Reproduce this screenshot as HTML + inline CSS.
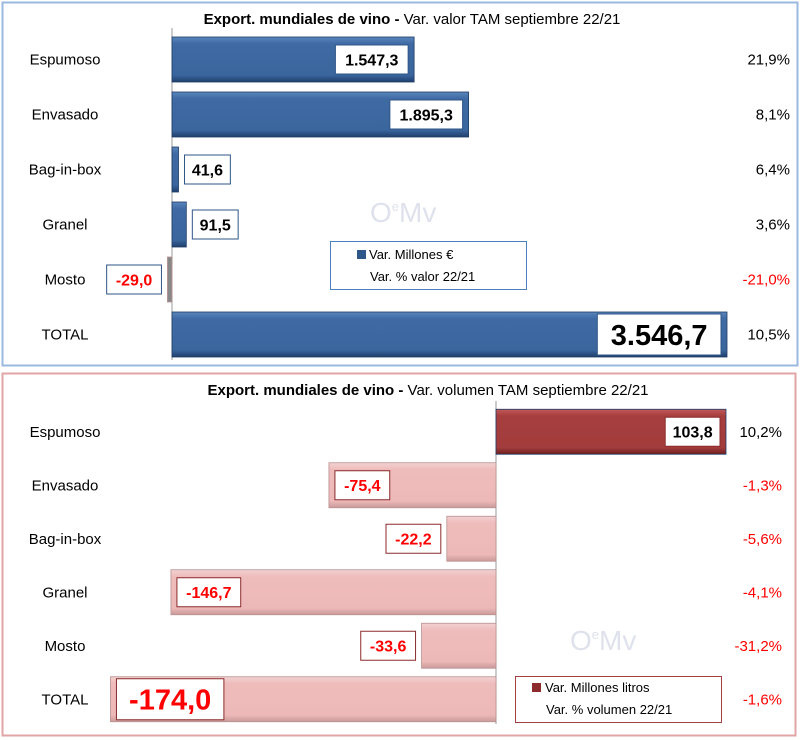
<!DOCTYPE html>
<html><head><meta charset="utf-8"><style>
body{margin:0;background:#fff;}
svg{display:block;font-family:"Liberation Sans",sans-serif;}
</style></head><body>
<svg id="c" width="802" height="740">
<defs>
<linearGradient id="gb" x1="0" y1="0" x2="0" y2="1"><stop offset="0" stop-color="#5a86bd"/><stop offset="0.15" stop-color="#3f6aa3"/><stop offset="0.85" stop-color="#3a659d"/><stop offset="1" stop-color="#1f3f6b"/></linearGradient>
<linearGradient id="gr" x1="0" y1="0" x2="0" y2="1"><stop offset="0" stop-color="#c05a5a"/><stop offset="0.15" stop-color="#a63e3e"/><stop offset="0.85" stop-color="#a33c3c"/><stop offset="1" stop-color="#6e1f1f"/></linearGradient>
<linearGradient id="gp" x1="0" y1="0" x2="0" y2="1"><stop offset="0" stop-color="#f2d2d2"/><stop offset="0.15" stop-color="#efbcbc"/><stop offset="0.85" stop-color="#edb8b8"/><stop offset="1" stop-color="#c99a9a"/></linearGradient>
</defs>
<rect x="2.5" y="2.5" width="795" height="363" fill="none" stroke="#9bb8de" stroke-width="2"/>
<rect x="2.5" y="373.5" width="793" height="362" fill="none" stroke="#e0a6a6" stroke-width="2"/>
<text x="412" y="24" text-anchor="middle" font-size="15"><tspan font-weight="bold">Export. mundiales de vino - </tspan>Var. valor TAM septiembre 22/21</text>
<text x="428" y="395" text-anchor="middle" font-size="15"><tspan font-weight="bold">Export. mundiales de vino - </tspan>Var. volumen TAM septiembre 22/21</text>
<text x="370" y="222" font-size="28" fill="#dfe2ec">O<tspan font-size="13" dy="-11">e</tspan><tspan dy="11">Mv</tspan></text>
<text x="570" y="650" font-size="28" fill="#dfe2ec">O<tspan font-size="13" dy="-11">e</tspan><tspan dy="11">Mv</tspan></text>
<g id="top"></g><g id="bot"></g>
<g>
<rect x="330.5" y="241.5" width="196" height="48" fill="#fff" stroke="#4a7fc1"/>
<rect x="357" y="250" width="9" height="9" fill="#2f5688"/>
<text x="369" y="259" font-size="13">Var. Millones €</text>
<text x="370" y="281" font-size="13">Var. % valor 22/21</text>
</g>
<g>
<rect x="515.5" y="676.5" width="206" height="46" fill="#fff" stroke="#a04040"/>
<rect x="532" y="683" width="9" height="9" fill="#8b2b2b"/>
<text x="545" y="692" font-size="13">Var. Millones litros</text>
<text x="546" y="714" font-size="13">Var. % volumen 22/21</text>
</g>
</svg>
<script>
const cats=["Espumoso","Envasado","Bag-in-box","Granel","Mosto","TOTAL"];
const valLabels=["1.547,3","1.895,3","41,6","91,5","-29,0","3.546,7"];
const valData=[1547.3,1895.3,41.6,91.5,-29.0,3546.7];
const valPct=["21,9%","8,1%","6,4%","3,6%","-21,0%","10,5%"];
const volLabels=["103,8","-75,4","-22,2","-146,7","-33,6","-174,0"];
const volData=[103.8,-75.4,-22.2,-146.7,-33.6,-174.0];
const volPct=["10,2%","-1,3%","-5,6%","-4,1%","-31,2%","-1,6%"];
const NS="http://www.w3.org/2000/svg";
function mk(p,t,a,txt){const e=document.createElementNS(NS,t);for(const k in a)e.setAttribute(k,a[k]);if(txt!=null)e.textContent=txt;p.appendChild(e);return e;}
function draw(g,cfg){
  const {data,labels,pcts,x0,k,y0,step,bh,pos,neg,pctX,catX,labBorder}=cfg;
  const xs=v=>x0+v*k;
  mk(g,"line",{x1:x0,y1:y0-6,x2:x0,y2:y0+step*6-4,stroke:"#999"});
  data.forEach((v,i)=>{
    const cy=y0+step*i+step/2-2;
    const c=mk(g,"text",{x:catX,y:cy+5,"text-anchor":"middle","font-size":15},cats[i]);
    
    
    const xa=Math.min(xs(0),xs(v)),w=Math.max(Math.abs(xs(v)-xs(0)),1.5);
    const b=mk(g,"rect",{x:xa,y:cy-bh/2,width:w,height:bh,fill:v>=0?pos:neg,stroke:v>=0?"#1e3c66":"#b89090","stroke-width":0.8});
    
    
    const big=i===5;
    const fs=big?(cfg.bigFs):16;
    const tw=labels[i].length*fs*0.56+10, th=big?fs+12:29;
    const inside=w>80;
    let bx;
    if(v>=0) bx=inside?xs(v)-6-tw:xs(v)+6;
    else bx=inside?xs(v)+6:xs(v)-6-tw;
    const bb=mk(g,"rect",{x:bx,y:cy-th/2,width:tw,height:th,fill:"#fff",stroke:labBorder});
    
    
    const t=mk(g,"text",{x:bx+tw/2,y:cy+fs*0.36,"text-anchor":"middle","font-size":fs,"font-weight":"bold",fill:v<0?"#ff0000":"#000"},labels[i]);
    
    
    const p=mk(g,"text",{x:pctX,y:cy+5,"text-anchor":"end","font-size":15,fill:pcts[i][0]==="-"?"#ff0000":"#000"},pcts[i]);
    
    
  });
}
draw(document.getElementById("top"),{data:valData,labels:valLabels,pcts:valPct,x0:172,k:555/3546.7,y0:34,step:55,bh:45,pos:"url(#gb)",neg:"#888",pctX:790,catX:65,labBorder:"#2f5688",bigFs:29});
draw(document.getElementById("bot"),{data:volData,labels:volLabels,pcts:volPct,x0:496,k:230/103.8,y0:407,step:53.5,bh:45,pos:"url(#gr)",neg:"url(#gp)",pctX:782,catX:65,labBorder:"#8b2b2b",bigFs:29});
</script>
</body></html>
